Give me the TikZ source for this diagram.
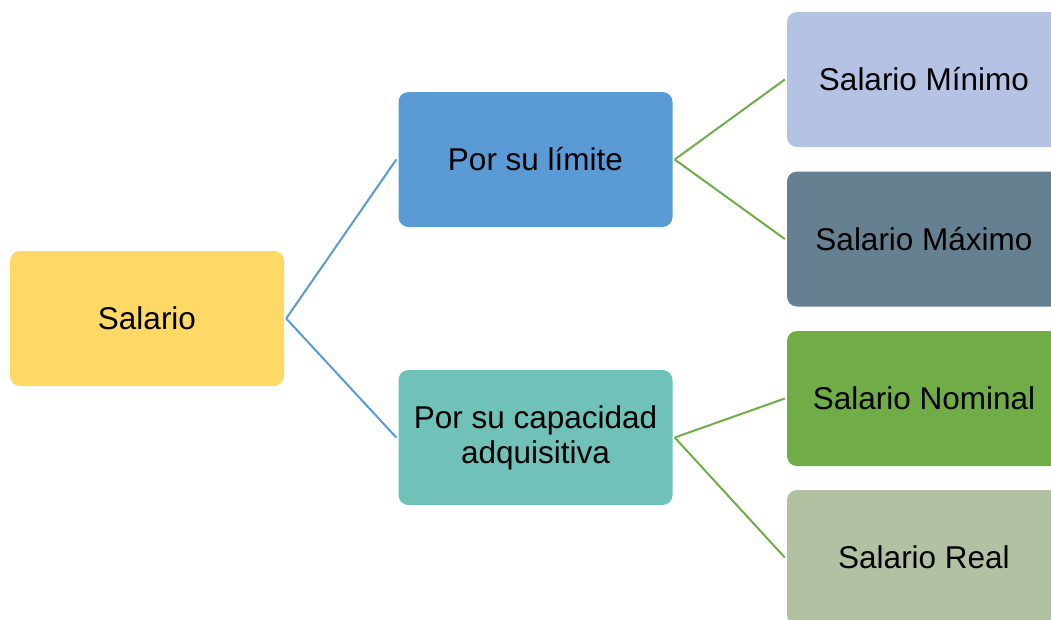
\documentclass[tikz,border=0pt]{standalone}
\usepackage{fontspec}
\setmainfont{Liberation Sans}
\definecolor{cyellow}{HTML}{FFD966}
\definecolor{cblue}{HTML}{5B9BD5}
\definecolor{cteal}{HTML}{70C1B8}
\definecolor{clav}{HTML}{B4C2E3}
\definecolor{cslate}{HTML}{658090}
\definecolor{cgreen}{HTML}{70AD47}
\definecolor{csage}{HTML}{B2C1A1}
\tikzset{
  box/.style={rectangle, rounded corners=10pt, minimum width=274pt, minimum height=135pt,
    inner sep=0pt, align=center, text=black, font=\fontsize{31.5}{35}\selectfont},
  bline/.style={draw=cblue, line width=2pt},
  gline/.style={draw=cgreen, line width=2pt}
}
\begin{document}
\begin{tikzpicture}[x=1pt,y=-1pt]
\useasboundingbox (0,0) rectangle (1051,619);
\clip (0,0) rectangle (1051,619);
\fill[white] (0,0) rectangle (1051,619);
\node[box, fill=cyellow] (sal) at (147,318.5) {Salario};
\node[box, fill=cblue] (lim) at (535.5,159.5) {Por su límite};
\node[box, fill=cteal] (cap) at (535.5,437.5) {Por su capacidad\\adquisitiva};
\node[box, fill=clav] (min) at (924,79.5) {Salario Mínimo};
\node[box, fill=cslate] (max) at (924,239) {Salario Máximo};
\node[box, fill=cgreen] (nom) at (924,398.5) {Salario Nominal};
\node[box, fill=csage] (real) at (924,557.5) {Salario Real};
\draw[bline] ([xshift=2pt]sal.east) -- ([xshift=-2pt]lim.west);
\draw[bline] ([xshift=2pt]sal.east) -- ([xshift=-2pt]cap.west);
\draw[gline] ([xshift=2pt]lim.east) -- ([xshift=-2pt]min.west);
\draw[gline] ([xshift=2pt]lim.east) -- ([xshift=-2pt]max.west);
\draw[gline] ([xshift=2pt]cap.east) -- ([xshift=-2pt]nom.west);
\draw[gline] ([xshift=2pt]cap.east) -- ([xshift=-2pt]real.west);
\end{tikzpicture}
\end{document}
